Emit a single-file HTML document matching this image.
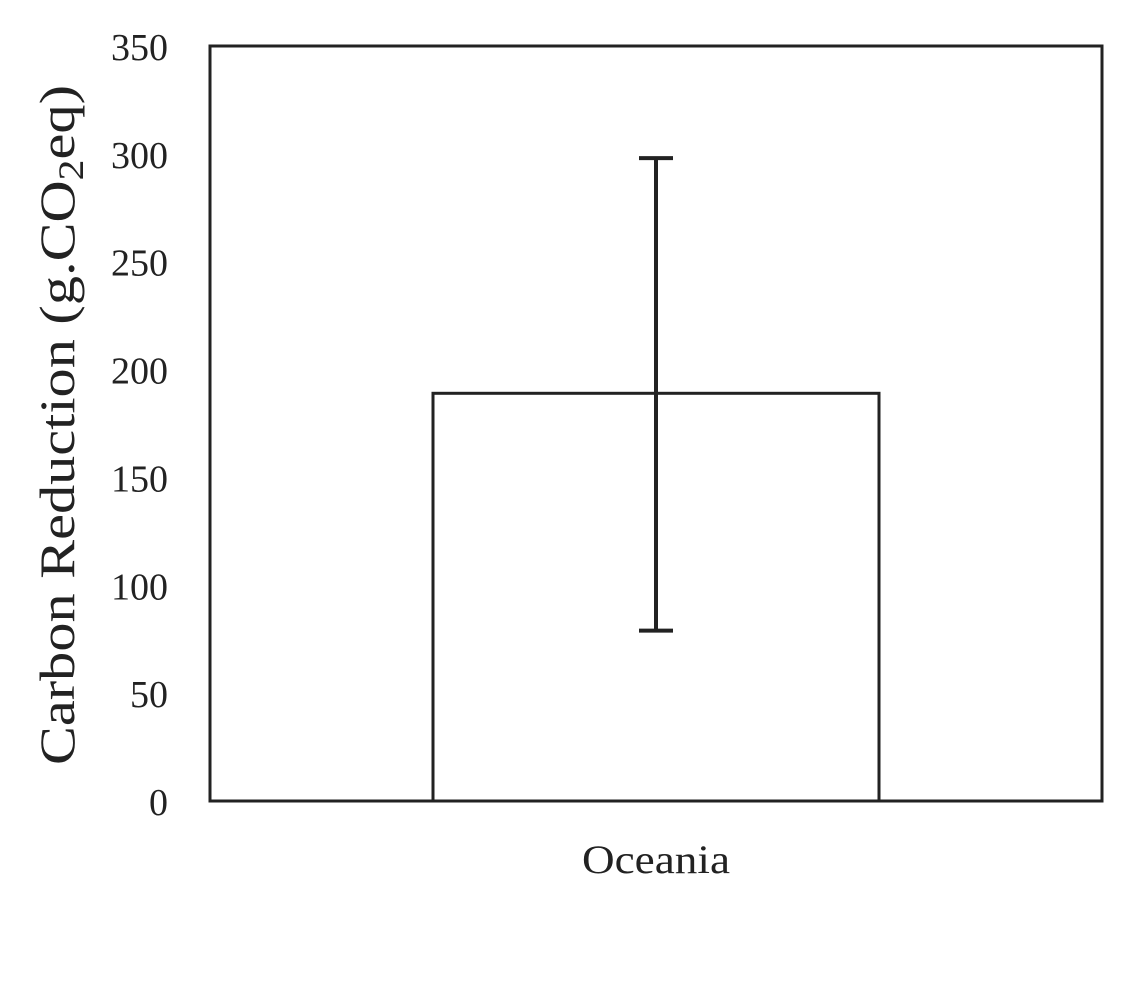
<!DOCTYPE html>
<html><head><meta charset="utf-8"><style>
body{margin:0;background:#fff;}
svg text{font-family:"Liberation Serif",serif;fill:#222;}
</style></head><body>
<svg id="chart" width="1130" height="985">
<g id="ticks"></g>
<g id="bars"></g>
<rect x="210" y="46" width="892" height="755" fill="none" stroke="#222" stroke-width="3"/>
<text transform="translate(74,425) rotate(-90)" text-anchor="middle" font-size="50" textLength="680" lengthAdjust="spacingAndGlyphs">Carbon Reduction (g.CO<tspan font-size="36" dy="9">2</tspan><tspan dy="-9">eq)</tspan></text>
</svg>
<script>
const categories=["Oceania"];
const values=[189];
const errLow=[79];
const errHigh=[298];
const yTicks=[0,50,100,150,200,250,300,350];
const x0=210,x1=1102,yTop=46,yBot=801,yMax=350;
const ns="http://www.w3.org/2000/svg";
function yS(v){return yBot-(v/yMax)*(yBot-yTop);}
const band=(x1-x0)/categories.length;
function xS(i){return x0+band*(i+0.5);}
const tg=document.getElementById('ticks'),bg=document.getElementById('bars');
function mk(tag,attrs,parent){const e=document.createElementNS(ns,tag);for(const k in attrs)e.setAttribute(k,attrs[k]);parent.appendChild(e);return e;}
yTicks.forEach(t=>{
 const tx=mk('text',{x:168,y:yS(t)+14,'text-anchor':'end','font-size':'38'},tg);
 tx.textContent=t;
 
 
});
categories.forEach((c,i)=>{
 const cx=xS(i),w=band*0.5;
 const r=mk('rect',{x:cx-w/2,y:yS(values[i]),width:w,height:yBot-yS(values[i]),fill:'#fff',stroke:'#222','stroke-width':3},bg);
 
 
 const l=mk('line',{x1:cx,x2:cx,y1:yS(errLow[i]),y2:yS(errHigh[i]),stroke:'#222','stroke-width':4},bg);
 
 
 [errLow[i],errHigh[i]].forEach(v=>{
  const cap=mk('line',{x1:cx-17,x2:cx+17,y1:yS(v),y2:yS(v),stroke:'#222','stroke-width':4},bg);
  
  
 });
 const lb=mk('text',{x:cx,y:873,'text-anchor':'middle','font-size':'40',textLength:'148',lengthAdjust:'spacingAndGlyphs'},bg);
 lb.textContent=c;
 
 
});
</script>
</body></html>
